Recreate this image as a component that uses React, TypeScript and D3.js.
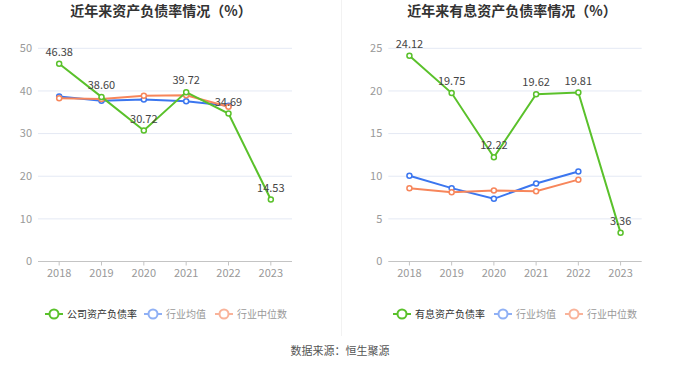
import React from "react";
import * as d3 from "d3";

const years = ["2018", "2019", "2020", "2021", "2022", "2023"];

const companyDebt = [46.38, 38.6, 30.72, 39.72, 34.69, 14.53];
const industryAvgDebt = [38.7, 37.7, 38.0, 37.6, 36.5];
const industryMedDebt = [38.3, 38.1, 38.9, 39.0, 36.3];

const interestDebt = [24.12, 19.75, 12.22, 19.62, 19.81, 3.36];
const industryAvgInterest = [10.05, 8.6, 7.35, 9.15, 10.55];
const industryMedInterest = [8.6, 8.13, 8.32, 8.25, 9.6];

const leftTicks = [0, 10, 20, 30, 40, 50];
const rightTicks = [0, 5, 10, 15, 20, 25];

const GREEN = "#5ac12b";
const BLUE = "#3b76ef";
const ORANGE = "#f7865b";
const FONT = "'Noto Sans CJK SC', 'Noto Sans', sans-serif";

type PanelProps = {
  title: string;
  titleX: number;
  x0: number;
  x1: number;
  yMax: number;
  ticks: number[];
  main: number[];
  avg: number[];
  med: number[];
  legendNames: string[];
  legendX: number[];
};

function Panel(p: PanelProps) {
  const x = d3.scaleBand<string>().domain(years).range([p.x0, p.x1]);
  const y = d3.scaleLinear().domain([0, p.yMax]).range([261.5, 48.3]);
  const cx = (i: number) => (x(years[i]) as number) + x.bandwidth() / 2;
  const line = d3
    .line<number>()
    .x((_, i) => cx(i))
    .y((d) => y(d));

  const series = [
    { data: p.avg, color: BLUE },
    { data: p.med, color: ORANGE },
    { data: p.main, color: GREEN },
  ];

  const legendColors = [GREEN, "#8fb0f5", "#f9b39a"];
  const legendText = ["#333", "#999", "#999"];

  return (
    <g>
      <text
        x={p.titleX}
        y={16}
        textAnchor="middle"
        fontSize={14}
        fontWeight="bold"
        fill="#333"
        fontFamily={FONT}
      >
        {p.title}
      </text>
      {p.ticks.map((t) => (
        <g key={t}>
          {t > 0 && (
            <line x1={p.x0} x2={p.x1} y1={y(t)} y2={y(t)} stroke="#e4e9f4" strokeWidth={1} />
          )}
          <text
            x={p.x0 - 6}
            y={y(t)}
            dy="0.35em"
            textAnchor="end"
            fontSize={11}
            fill="#999"
            fontFamily={FONT}
          >
            {t}
          </text>
        </g>
      ))}
      <line x1={p.x0} x2={p.x1} y1={y(0)} y2={y(0)} stroke="#c4c4c4" strokeWidth={1} />
      {years.map((yr, i) => (
        <g key={yr}>
          <line x1={cx(i)} x2={cx(i)} y1={y(0)} y2={y(0) + 4} stroke="#c4c4c4" />
          <text
            x={cx(i)}
            y={y(0) + 15}
            textAnchor="middle"
            fontSize={11}
            fill="#999"
            fontFamily={FONT}
          >
            {yr}
          </text>
        </g>
      ))}
      {series.map((s, k) => (
        <g key={k}>
          <path d={line(s.data) || ""} fill="none" stroke={s.color} strokeWidth={2} />
          {s.data.map((d, i) => (
            <circle key={i} cx={cx(i)} cy={y(d)} r={2.5} fill="#fff" stroke={s.color} strokeWidth={1.5} />
          ))}
        </g>
      ))}
      {p.main.map((d, i) => (
        <text
          key={i}
          x={cx(i)}
          y={y(d) - 8}
          textAnchor="middle"
          fontSize={11}
          fill="#444"
          fontFamily={FONT}
        >
          {d.toFixed(2)}
        </text>
      ))}
      {p.legendNames.map((n, k) => (
        <g key={n} transform={`translate(${p.legendX[k]},314)`}>
          <line x1={0} x2={18} y1={0} y2={0} stroke={legendColors[k]} strokeWidth={2} />
          <circle cx={9} cy={0} r={4.5} fill="#fff" stroke={legendColors[k]} strokeWidth={2} />
          <text x={22} y={0} dy="0.35em" fontSize={10} fill={legendText[k]} fontFamily={FONT}>
            {n}
          </text>
        </g>
      ))}
    </g>
  );
}

export default function App() {
  return (
    <svg
      width={680}
      height={367}
      style={{ position: "absolute", left: 0, top: 0, background: "#fff" }}
    >
      <Panel
        title="近年来资产负债率情况（%）"
        titleX={161}
        x0={38}
        x1={292}
        yMax={50}
        ticks={leftTicks}
        main={companyDebt}
        avg={industryAvgDebt}
        med={industryMedDebt}
        legendNames={["公司资产负债率", "行业均值", "行业中位数"]}
        legendX={[45, 144, 215]}
      />
      <line x1={341.5} x2={341.5} y1={0} y2={336} stroke="#f2f2f2" strokeWidth={1} />
      <Panel
        title="近年来有息资产负债率情况（%）"
        titleX={512}
        x0={388.3}
        x1={641.7}
        yMax={25}
        ticks={rightTicks}
        main={interestDebt}
        avg={industryAvgInterest}
        med={industryMedInterest}
        legendNames={["有息资产负债率", "行业均值", "行业中位数"]}
        legendX={[393, 494, 565]}
      />
      <text
        x={340}
        y={351}
        dy="0.35em"
        textAnchor="middle"
        fontSize={11}
        fill="#555"
        fontFamily={FONT}
      >
        数据来源：恒生聚源
      </text>
    </svg>
  );
}
